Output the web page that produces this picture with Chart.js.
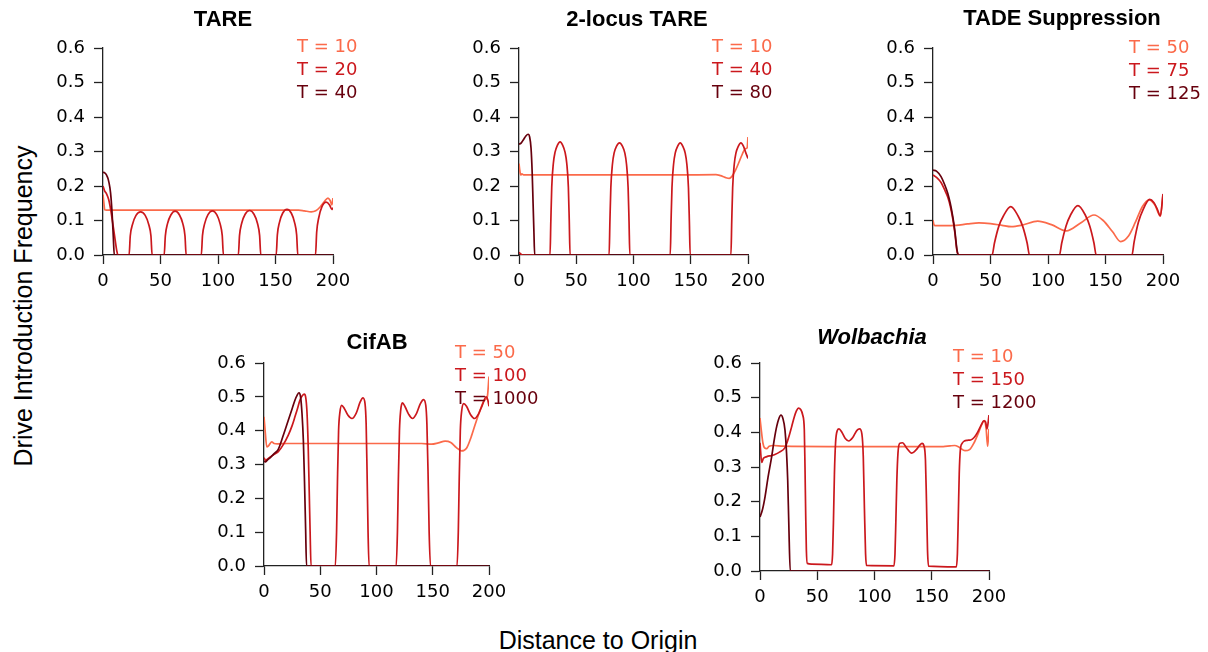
<!DOCTYPE html>
<html>
<head>
<meta charset="utf-8">
<script src="https://cdn.jsdelivr.net/npm/chart.js@4.4.1/dist/chart.umd.min.js"></script>
<style>
html, body { margin: 0; padding: 0; background: #fff; overflow: hidden; }
#fig { position: relative; width: 1208px; height: 652px; }
#fig canvas { position: absolute; }
.axlabel { position: absolute; font: 25px "Liberation Sans", Arial, sans-serif; color: #000;
           white-space: nowrap; text-align: center; line-height: 30px; width: 400px; }
</style>
</head>
<body>
<div id="fig">
  <div class="axlabel" style="left:-177px; top:291px; transform:rotate(-90deg)">Drive Introduction Frequency</div>
  <div class="axlabel" style="left:398px; top:625px">Distance to Origin</div>
</div>
<script>
// distance (x) and drive frequency (y) per release size T

// TARE
const tare10X = [0, 0.8, 1.5, 3, 10, 50, 100, 150, 170, 175, 181, 185, 189, 192.5, 195.6, 197.5, 199, 200];
const tare10Y = [0.175, 0.15, 0.131, 0.13, 0.13, 0.13, 0.13, 0.13, 0.13, 0.128, 0.125, 0.128, 0.14, 0.155, 0.165, 0.158, 0.145, 0.165];
const tare20X = [0, 1.5, 3, 5, 7, 9, 10.5, 12, 13,
  22.7, 23.7, 25.7, 28.7, 32.7, 36.7, 39.7, 41.7, 42.7,
  53.2, 54.2, 56.1, 59, 62.7, 66.5, 69.4, 71.3, 72.3,
  85.5, 86.5, 88.4, 91.3, 95.1, 98.9, 101.8, 103.7, 104.7,
  117.7, 118.7, 120.6, 123.6, 127.5, 131.3, 134.3, 136.2, 137.2,
  150.6, 151.6, 153.4, 156.2, 160, 163.8, 166.6, 168.4, 169.4,
  184.8, 185.8, 187.6, 190.4, 194, 197, 199, 200];
const tare20Y = [0.2, 0.185, 0.178, 0.16, 0.125, 0.08, 0.045, 0.012, 0,
  0, 0.055, 0.089, 0.115, 0.125, 0.115, 0.089, 0.055, 0,
  0, 0.055, 0.091, 0.116, 0.127, 0.116, 0.091, 0.055, 0,
  0, 0.056, 0.091, 0.117, 0.128, 0.117, 0.091, 0.056, 0,
  0, 0.056, 0.092, 0.118, 0.129, 0.118, 0.092, 0.056, 0,
  0, 0.058, 0.094, 0.121, 0.132, 0.121, 0.094, 0.058, 0,
  0, 0.066, 0.108, 0.14, 0.153, 0.145, 0.132, 0.137];
const tare40X = [0, 1.5, 3, 4.5, 6, 7, 8, 9, 9.8, 200];
const tare40Y = [0.24, 0.238, 0.232, 0.22, 0.195, 0.165, 0.115, 0.05, 0, 0];

// 2-locus TARE
const loc10X = [0, 0.7, 1.5, 2.5, 4, 20, 60, 100, 140, 172, 176, 180, 183.6, 186, 189, 192, 195, 197.6, 199.2, 200];
const loc10Y = [0.265, 0.245, 0.232, 0.235, 0.232, 0.232, 0.232, 0.232, 0.232, 0.233, 0.23, 0.225, 0.222, 0.228, 0.245, 0.268, 0.292, 0.308, 0.31, 0.342];
const loc40X = [0, 1.5, 3,
  27.1, 27.8, 28.6, 30, 31.5, 33.5, 35.9, 38.2, 40.2, 41.7, 43.1, 43.9, 44.6,
  78.7, 79.4, 80.2, 81.6, 83.1, 85.1, 87.8, 90.4, 92.4, 93.9, 95.3, 96.1, 96.8,
  132.1, 132.8, 133.6, 135, 136.5, 138.5, 140.8, 143.1, 145.1, 146.6, 148, 148.8, 149.5,
  185.1, 185.8, 186.6, 188, 189.5, 191.5, 193.8, 196.1, 198.1, 200];
const loc40Y = [0.008, 0.003, 0,
  0, 0.098, 0.197, 0.266, 0.298, 0.318, 0.328, 0.318, 0.298, 0.266, 0.197, 0.098, 0,
  0, 0.098, 0.195, 0.263, 0.296, 0.315, 0.325, 0.315, 0.296, 0.263, 0.195, 0.098, 0,
  0, 0.098, 0.195, 0.263, 0.296, 0.315, 0.325, 0.315, 0.296, 0.263, 0.195, 0.098, 0,
  0, 0.098, 0.195, 0.263, 0.296, 0.315, 0.325, 0.315, 0.296, 0.28];
const loc80X = [0, 2, 4, 6, 8, 9.3, 10.5, 11.5, 12.3, 13, 13.7, 200];
const loc80Y = [0.321, 0.325, 0.335, 0.345, 0.35, 0.342, 0.31, 0.24, 0.15, 0.07, 0, 0];

// TADE Suppression
const tade50X = [0, 0.8, 2, 10, 20, 30, 40, 50, 60, 68, 78, 91, 103, 116, 128, 140, 148, 156, 163.2, 170, 176, 182, 188, 193, 197.7, 200];
const tade50Y = [0.101, 0.088, 0.085, 0.085, 0.086, 0.09, 0.093, 0.091, 0.086, 0.082, 0.087, 0.098, 0.088, 0.07, 0.092, 0.116, 0.1, 0.068, 0.039, 0.055, 0.095, 0.14, 0.16, 0.145, 0.113, 0.175];
const tade75X = [0, 3, 7, 10, 12.8, 15, 17.2, 19, 20.7, 22,
  51.4, 53.4, 57.2, 61.2, 67.6, 74, 78, 81.9, 83.9,
  110, 111.9, 115.7, 119.6, 126, 132.4, 136.3, 140, 141.9,
  173, 174.9, 178.6, 182.5, 188.4, 192, 195, 197.7, 200];
const tade75Y = [0.232, 0.225, 0.21, 0.19, 0.168, 0.142, 0.105, 0.065, 0.015, 0,
  0, 0.034, 0.083, 0.113, 0.14, 0.113, 0.083, 0.034, 0,
  0, 0.034, 0.084, 0.116, 0.143, 0.116, 0.084, 0.034, 0,
  0, 0.038, 0.095, 0.13, 0.161, 0.152, 0.133, 0.113, 0.177];
const tade125X = [0, 3, 7, 10, 12.8, 15, 17.2, 19, 20.9, 22.2, 200];
const tade125Y = [0.246, 0.243, 0.227, 0.205, 0.179, 0.15, 0.111, 0.07, 0.014, 0, 0];

// CifAB
const cif50X = [0, 1, 2.5, 4, 6.8, 9, 12, 20, 50, 100, 140, 149, 155, 161, 166, 171, 175.5, 180, 184, 188, 192, 196, 198.5, 200];
const cif50Y = [0.441, 0.4, 0.352, 0.355, 0.367, 0.362, 0.361, 0.362, 0.362, 0.362, 0.362, 0.36, 0.364, 0.369, 0.365, 0.35, 0.34, 0.348, 0.38, 0.421, 0.46, 0.49, 0.5, 0.56];
const cif100X = [0, 1.5, 3, 6, 9, 12.7, 17, 21.6, 25, 27.5, 30, 31.9, 34, 35.8, 37, 38.2, 39.3, 40.2, 41, 41.8,
  63.4, 64.5, 65.3, 66.3, 67.5, 69, 71.5, 74.5, 78.2, 82, 85.5, 88, 89.8, 90.8, 91.6, 92.5, 93.4,
  117.5, 118.6, 119.4, 120.4, 121.5, 123, 125.5, 128.5, 132, 135.7, 139, 141.8, 143.8, 144.8, 145.8, 146.8, 148,
  171.6, 172.7, 173.5, 174.5, 175.7, 177.5, 180, 183.5, 187.2, 190.5, 194, 197.4, 199, 200];
const cif100Y = [0.32, 0.312, 0.316, 0.323, 0.33, 0.338, 0.358, 0.387, 0.415, 0.441, 0.468, 0.49, 0.503, 0.508, 0.5, 0.455, 0.352, 0.22, 0.1, 0,
  0, 0.1, 0.25, 0.4, 0.455, 0.475, 0.465, 0.446, 0.436, 0.452, 0.485, 0.497, 0.48, 0.42, 0.28, 0.1, 0,
  0, 0.1, 0.25, 0.4, 0.46, 0.482, 0.47, 0.449, 0.436, 0.452, 0.48, 0.492, 0.475, 0.42, 0.28, 0.1, 0,
  0, 0.1, 0.25, 0.4, 0.458, 0.48, 0.472, 0.448, 0.436, 0.448, 0.475, 0.5, 0.49, 0.472];
const cif1000X = [0, 1.5, 3, 6, 9, 12.7, 17, 21.6, 25, 27.5, 29.5, 31.1, 32.5, 33.8, 35, 36, 37, 37.8, 200];
const cif1000Y = [0.31, 0.308, 0.313, 0.322, 0.332, 0.345, 0.385, 0.431, 0.465, 0.49, 0.505, 0.512, 0.5, 0.45, 0.37, 0.25, 0.11, 0, 0];

// Wolbachia
const wol10X = [0, 1, 2.5, 4, 5.8, 8, 12, 20, 60, 100, 140, 160, 166, 170, 174, 179, 183, 187, 191, 194, 196, 197.5, 198.8, 200];
const wol10Y = [0.441, 0.41, 0.37, 0.355, 0.353, 0.36, 0.362, 0.36, 0.359, 0.359, 0.359, 0.359, 0.361, 0.362, 0.357, 0.347, 0.35, 0.37, 0.4, 0.425, 0.434, 0.41, 0.36, 0.41];
const wol150X = [0, 1.5, 3, 6, 10, 13, 17, 21.8, 25, 27.7, 30, 32, 33.5, 35.5, 37.3, 38.7, 39.3, 39.9, 40.5, 41.3, 45,
  62.5, 63.4, 64.2, 65, 66, 67.5, 69, 71.5, 74.5, 77.5, 81, 84.5, 87, 89, 90.2, 91.2, 92.2, 93,
  117, 117.9, 118.7, 119.5, 120.5, 122, 124.5, 128, 132.5, 136.5, 139.5, 141.5, 143.3, 144.5, 145.4, 146.3, 147.2,
  171.5, 172.4, 173.2, 174, 175, 176.5, 178.5, 181, 184, 187, 190, 193, 195.5, 197, 198.3, 200];
const wol150Y = [0.37, 0.313, 0.325, 0.33, 0.333, 0.336, 0.343, 0.356, 0.385, 0.417, 0.445, 0.463, 0.47, 0.466, 0.45, 0.407, 0.3, 0.166, 0.06, 0.022, 0.02,
  0.018, 0.05, 0.15, 0.28, 0.37, 0.405, 0.41, 0.4, 0.382, 0.375, 0.385, 0.405, 0.41, 0.395, 0.33, 0.18, 0.05, 0.016,
  0.015, 0.05, 0.15, 0.26, 0.34, 0.368, 0.37, 0.355, 0.34, 0.35, 0.363, 0.368, 0.36, 0.32, 0.2, 0.06, 0.014,
  0.012, 0.05, 0.16, 0.28, 0.35, 0.368, 0.375, 0.377, 0.378, 0.385, 0.4, 0.42, 0.433, 0.43, 0.41, 0.45];
const wol1200X = [0, 2, 4.4, 7, 10.2, 12.5, 14.6, 16.5, 18.3, 20, 21.8, 23.2, 24.2, 25.2, 26.4, 200];
const wol1200Y = [0.156, 0.175, 0.214, 0.27, 0.33, 0.38, 0.417, 0.44, 0.45, 0.44, 0.407, 0.34, 0.262, 0.13, 0, 0];

const titles = ['TARE', '2-locus TARE', 'TADE Suppression', 'CifAB', 'Wolbachia'];
const legendLabels = [
  ['T = 10', 'T = 20', 'T = 40'],
  ['T = 10', 'T = 40', 'T = 80'],
  ['T = 50', 'T = 75', 'T = 125'],
  ['T = 50', 'T = 100', 'T = 1000'],
  ['T = 10', 'T = 150', 'T = 1200']
];
const yTicks = [0, 0.1, 0.2, 0.3, 0.4, 0.5, 0.6];
const xTicks = [0, 50, 100, 150, 200];

// light, mid, dark reds
const colors = ['rgb(251,106,74)', 'rgb(203,24,29)', 'rgb(103,0,13)'];

const pts = (xs, ys) => xs.map((x, i) => ({ x: x, y: ys[i] }));

// plot box [left, top, right, bottom] in page px, plus title/legend offsets from the plot box
const panels = [
  { box: [103, 48, 333, 255], series: [[tare10X, tare10Y], [tare20X, tare20Y], [tare40X, tare40Y]],
    titleDx: 120, titleDy: -30, legDx: 194, legDy: -3 },
  { box: [519, 48, 748, 255], series: [[loc10X, loc10Y], [loc40X, loc40Y], [loc80X, loc80Y]],
    titleDx: 118, titleDy: -30, legDx: 193, legDy: -3 },
  { box: [933, 48, 1163, 255], series: [[tade50X, tade50Y], [tade75X, tade75Y], [tade125X, tade125Y]],
    titleDx: 129, titleDy: -31, legDx: 196, legDy: -2 },
  { box: [264, 363, 489, 566], series: [[cif50X, cif50Y], [cif100X, cif100Y], [cif1000X, cif1000Y]],
    titleDx: 113, titleDy: -22, legDx: 191, legDy: -12 },
  { box: [760, 363, 989, 571], series: [[wol10X, wol10Y], [wol150X, wol150Y], [wol1200X, wol1200Y]],
    titleDx: 112, titleDy: -27, legDx: 193, legDy: -8, italic: true }
];

// title above the axes and coloured "T = n" entries at the top right
const panelText = {
  id: 'panelText',
  afterDraw(chart, args, o) {
    const { ctx, chartArea: a } = chart;
    ctx.save();
    ctx.textBaseline = 'alphabetic';
    ctx.textAlign = 'center';
    ctx.fillStyle = '#000';
    ctx.font = (o.italic ? 'italic ' : '') + 'bold 22px "Liberation Sans", Arial, sans-serif';
    ctx.fillText(o.title, a.left + o.titleDx, a.top + o.titleDy + 8);
    ctx.textAlign = 'left';
    ctx.font = '18px "DejaVu Sans"';
    o.labels.forEach((t, i) => {
      ctx.fillStyle = colors[i];
      ctx.fillText(t, a.left + o.legDx, a.top + o.legDy + i * 23.3 + 6.6);
    });
    ctx.restore();
  }
};

const axisStyle = {
  grid: { drawOnChartArea: false, drawTicks: true, tickLength: 9, tickColor: '#222', tickWidth: 1.3 },
  border: { display: true, color: '#222', width: 1.3 }
};
const tickFont = { family: 'DejaVu Sans', size: 18 };

const fig = document.getElementById('fig');

panels.forEach((p, k) => {
  const [l, t, r, b] = p.box;
  const w = r - l + 120, h = b - t + 110;
  const c = document.createElement('canvas');
  c.width = w; c.height = h;
  c.style.left = (l - 60) + 'px';
  c.style.top = (t - 60) + 'px';
  c.style.width = w + 'px';
  c.style.height = h + 'px';
  fig.appendChild(c);

  // dark first so it is drawn on top
  const datasets = [2, 1, 0].map(i => ({
    data: pts(p.series[i][0], p.series[i][1]),
    borderColor: colors[i],
    borderWidth: 1.7,
    pointRadius: 0,
    fill: false,
    cubicInterpolationMode: 'monotone'
  }));

  new Chart(c, {
    type: 'line',
    data: { datasets },
    options: {
      responsive: false,
      devicePixelRatio: 1,
      animation: false,
      events: [],
      layout: { padding: { left: 0, top: 60, right: 60, bottom: 0 } },
      plugins: {
        legend: { display: false },
        tooltip: { enabled: false },
        panelText: { title: titles[k], labels: legendLabels[k], italic: !!p.italic,
                     titleDx: p.titleDx, titleDy: p.titleDy, legDx: p.legDx, legDy: p.legDy }
      },
      scales: {
        x: {
          type: 'linear', min: 0, max: 200,
          afterBuildTicks: s => { s.ticks = xTicks.map(v => ({ value: v })); },
          afterFit: s => { s.height = 50; },
          ticks: { color: '#000', font: tickFont, padding: 7, maxRotation: 0, autoSkip: false },
          ...axisStyle
        },
        y: {
          min: 0, max: 0.6,
          afterBuildTicks: s => { s.ticks = yTicks.map(v => ({ value: v })); },
          afterFit: s => { s.width = 60; },
          ticks: { color: '#000', font: tickFont, padding: 9, callback: v => v.toFixed(1) },
          ...axisStyle
        }
      }
    },
    plugins: [panelText]
  });
});
</script>
</body>
</html>
